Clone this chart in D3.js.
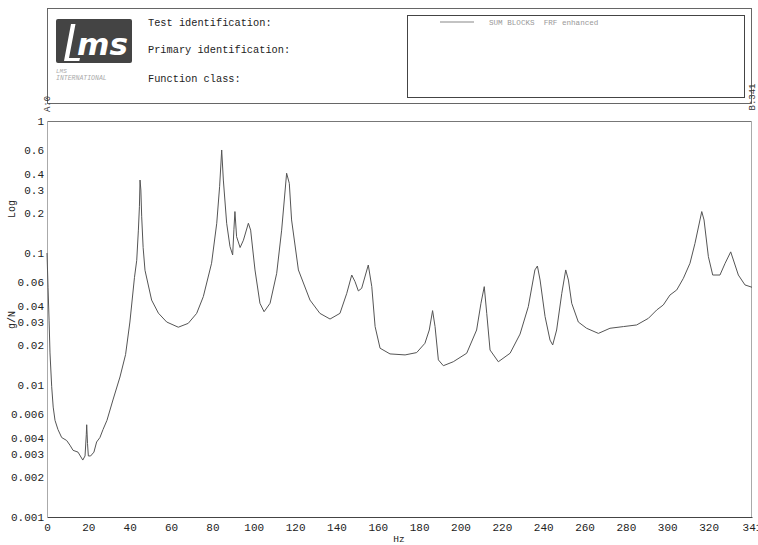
<!DOCTYPE html>
<html>
<head>
<meta charset="utf-8">
<script src="https://cdn.jsdelivr.net/npm/d3@7"></script>
<style>
  html, body { margin: 0; padding: 0; background: #fff; }
  svg { display: block; }
  text { white-space: pre; }
</style>
</head>
<body>
<svg id="chart" width="758" height="545"></svg>
<script>
// ---- data ----
const freq = [0,0.5,1,1.45,2.27,3.0,3.87,5.3,7.1,9.5,11.1,12.6,15,17.3,18.4,19.0,19.2,19.6,20,21.1,22.7,24,25.6,27.1,29,31.9,35.3,38.0,40.1,42.3,43.4,44.2,44.7,45.0,45.4,45.8,46.5,47.4,50.6,53.9,57.9,63.5,68.3,72.4,75.6,79.6,82.1,83.5,84.5,85.3,86.9,88.5,89.8,90.4,90.9,91.7,93.4,95,97.4,98.5,100.6,103,105,107.9,111.1,113.5,115.9,117.2,118.3,121.6,127.2,132,136.9,141.7,145,147.4,149,150.6,152.2,155.4,157.1,158.7,161.1,165.9,173.2,178.8,182.8,184.9,186.5,187.7,189.3,191.7,196.5,203,207.8,209.9,211.5,212.7,214.3,218.3,224,228.8,232.8,236,237.2,238.5,240.9,243.3,244.6,246.5,249,250.9,252.2,253.8,257,261,266.7,272.3,278.8,285.2,290.9,294.9,298.1,301.3,304.6,307.8,311,313.4,316.7,317.8,319.9,322,325.5,328,330.7,332,334.4,337.6,341];
const magnitude = [0.1,0.055,0.031,0.0175,0.0097,0.0068,0.0054,0.0046,0.0040,0.0038,0.0035,0.0032,0.0031,0.0027,0.0029,0.0042,0.0050,0.0036,0.0029,0.0029,0.0031,0.0037,0.0040,0.0046,0.0054,0.0077,0.0115,0.0170,0.0300,0.065,0.088,0.149,0.224,0.357,0.30,0.188,0.11,0.074,0.044,0.035,0.030,0.0274,0.0293,0.0349,0.0467,0.0836,0.168,0.32,0.603,0.357,0.168,0.112,0.0966,0.15,0.206,0.133,0.110,0.125,0.168,0.149,0.0744,0.0416,0.0359,0.0416,0.0702,0.149,0.402,0.337,0.178,0.0744,0.044,0.0349,0.0316,0.0349,0.0495,0.0681,0.0606,0.0516,0.054,0.0811,0.0556,0.0277,0.019,0.0172,0.0169,0.0176,0.0207,0.0261,0.0366,0.0277,0.0155,0.014,0.015,0.0174,0.0261,0.0416,0.0556,0.0349,0.0184,0.015,0.0174,0.0243,0.0392,0.0744,0.0797,0.0624,0.033,0.0219,0.0201,0.0261,0.0495,0.0744,0.0624,0.0416,0.030,0.0269,0.0246,0.0269,0.0277,0.0285,0.032,0.037,0.0404,0.048,0.0525,0.0643,0.0836,0.118,0.206,0.178,0.0938,0.0681,0.0681,0.0836,0.102,0.0885,0.0681,0.0573,0.055];
const xTicks = [0,20,40,60,80,100,120,140,160,180,200,220,240,260,280,300,320,341];
const yTicks = [1,0.6,0.4,0.3,0.2,0.1,0.06,0.04,0.03,0.02,0.01,0.006,0.004,0.003,0.002,0.001];
const yTickLabels = ["1","0.6","0.4","0.3","0.2","0.1","0.06","0.04","0.03","0.02","0.01","0.006","0.004","0.003","0.002","0.001"];
const headerLabels = ["Test identification:","Primary identification:","Function class:"];
const legendLabel = "SUM BLOCKS  FRF enhanced";
const xLabel = "Hz";
const yLabelUnit = "g/N";
const yLabelScale = "Log";
const rangeStart = "A:0";
const rangeEnd = "B:341";

// ---- drawing ----
const svg = d3.select("#chart");
const mono = "'Liberation Mono', 'DejaVu Sans Mono', monospace";
const L = 47, R = 752, T = 121, B = 517;

const x = d3.scaleLinear().domain([0, 341]).range([L, R]);
const y = d3.scaleLog().domain([0.001, 1]).range([B, T]);

// header box
svg.append("rect").attr("x", 47.5).attr("y", 8.5).attr("width", 704).attr("height", 95)
  .attr("fill", "none").attr("stroke", "#666").attr("stroke-width", 1);
// legend box
svg.append("rect").attr("x", 407.5).attr("y", 15.5).attr("width", 337).attr("height", 82)
  .attr("fill", "none").attr("stroke", "#444").attr("stroke-width", 1);

// logo
svg.append("rect").attr("x", 56).attr("y", 19).attr("width", 76).attr("height", 44)
  .attr("rx", 2).attr("fill", "#444");
svg.append("path").attr("d", "M71,24 L75.5,24 L69,58 L80,58 L79.3,61 L64,61 Z").attr("fill", "#fff");
svg.append("text").attr("x", 77).attr("y", 55).attr("fill", "#fff")
  .attr("font-family", "'DejaVu Sans', sans-serif").attr("font-style", "italic").attr("font-weight", "bold")
  .attr("font-size", 31).attr("textLength", 51).attr("lengthAdjust", "spacingAndGlyphs").text("ms");
svg.append("text").attr("x", 56).attr("y", 73).attr("fill", "#aaa")
  .attr("font-family", mono).attr("font-style", "italic").attr("font-size", 6).text("LMS");
svg.append("text").attr("x", 56).attr("y", 80).attr("fill", "#aaa")
  .attr("font-family", mono).attr("font-style", "italic").attr("font-size", 6.5).text("INTERNATIONAL");

// header labels
const headerY = [26, 53, 82];
headerLabels.forEach((t, i) => {
  svg.append("text").attr("x", 148).attr("y", headerY[i]).attr("fill", "#222")
    .attr("font-family", mono).attr("font-size", 10.3).text(t);
});

// legend
svg.append("line").attr("x1", 440).attr("x2", 474).attr("y1", 22).attr("y2", 22)
  .attr("stroke", "#888").attr("stroke-width", 1.2);
svg.append("text").attr("x", 489).attr("y", 25).attr("fill", "#999")
  .attr("font-family", mono).attr("font-size", 7.6).attr("xml:space", "preserve").text(legendLabel);

// range labels
svg.append("text").attr("transform", "translate(50,104) rotate(-90)").attr("text-anchor", "middle")
  .attr("fill", "#333").attr("font-family", mono).attr("font-size", 9).text(rangeStart);
svg.append("text").attr("transform", "translate(755,97) rotate(-90)").attr("text-anchor", "middle")
  .attr("fill", "#333").attr("font-family", mono).attr("font-size", 9).text(rangeEnd);

// plot frame
svg.append("line").attr("x1", L).attr("x2", R).attr("y1", T + 0.5).attr("y2", T + 0.5).attr("stroke", "#777");
svg.append("line").attr("x1", L + 0.5).attr("x2", L + 0.5).attr("y1", T).attr("y2", B).attr("stroke", "#aaa");
svg.append("line").attr("x1", R - 0.5).attr("x2", R - 0.5).attr("y1", T).attr("y2", B).attr("stroke", "#aaa");

// axes
const xAxis = d3.axisBottom(x).tickValues(xTicks).tickSize(0).tickPadding(6).tickFormat(d3.format("d"));
const gx = svg.append("g").attr("transform", `translate(0,${B})`).call(xAxis);
gx.select(".domain").attr("stroke", "#444");
gx.selectAll("text").attr("font-family", mono).attr("font-size", 11).attr("fill", "#222");

const yAxis = d3.axisLeft(y).tickValues(yTicks).tickSize(0).tickPadding(3)
  .tickFormat((d, i) => yTickLabels[i]);
const gy = svg.append("g").attr("transform", `translate(${L},0)`).call(yAxis);
gy.select(".domain").remove();
gy.selectAll("text").attr("font-family", mono).attr("font-size", 11).attr("fill", "#222");

// axis titles
svg.append("text").attr("x", 399).attr("y", 542).attr("text-anchor", "middle")
  .attr("font-family", mono).attr("font-size", 9.5).attr("fill", "#222").text(xLabel);
svg.append("text").attr("transform", "translate(15,209) rotate(-90)").attr("text-anchor", "middle")
  .attr("font-family", mono).attr("font-size", 10).attr("fill", "#222").text(yLabelScale);
svg.append("text").attr("transform", "translate(15,320) rotate(-90)").attr("text-anchor", "middle")
  .attr("font-family", mono).attr("font-size", 10).attr("fill", "#222").text(yLabelUnit);

// curve
const data = freq.map((f, i) => ({ f, v: magnitude[i] }));
const line = d3.line().x(d => x(d.f)).y(d => y(d.v));
svg.append("path").datum(data).attr("d", line)
  .attr("fill", "none").attr("stroke", "#555").attr("stroke-width", 1).attr("stroke-linejoin", "round");
</script>
</body>
</html>
